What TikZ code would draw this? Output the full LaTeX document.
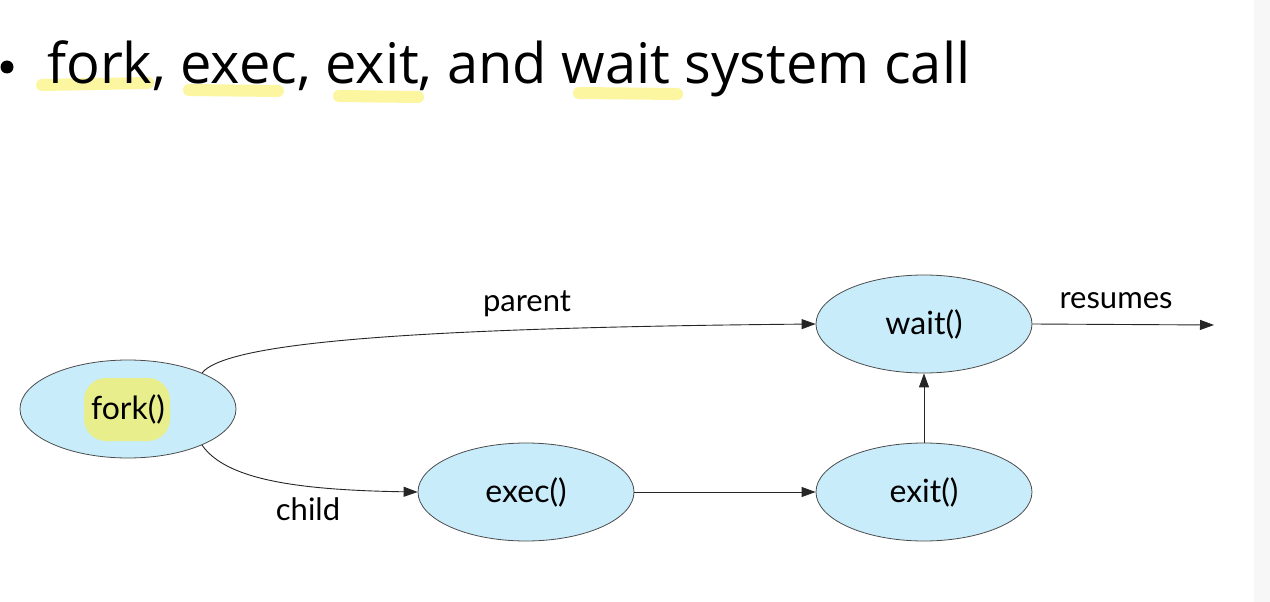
\documentclass[tikz,border=0pt]{standalone}
\usepackage{fontspec}
\setmainfont{Open Sans}
\newfontfamily\labelfont{Lato}
\usetikzlibrary{shapes.geometric,arrows.meta}
\definecolor{procblue}{RGB}{200,236,250}
\definecolor{hlyellow}{RGB}{252,246,160}
\definecolor{hlblob}{RGB}{232,238,140}
\definecolor{edgegray}{RGB}{247,247,247}
\begin{document}
\begin{tikzpicture}[x=1pt,y=-1pt,
  proc/.style={ellipse, draw=black!70, line width=0.8pt, fill=procblue,
    minimum width=216pt, minimum height=98pt, inner sep=0pt,
    font=\labelfont\fontsize{32}{34}\selectfont},
  lbl/.style={font=\labelfont\fontsize{31}{33}\selectfont, inner sep=0pt},
  conn/.style={draw=black!85, line width=0.9pt, -{Triangle[length=14pt,width=10pt]}},
  hl/.style={draw=hlyellow, line width=12pt, line cap=round},
]
\useasboundingbox (0,0) rectangle (1270,602);
\fill[white] (0,0) rectangle (1270,602);
\fill[edgegray] (1254,0) rectangle (1270,602);

% highlights in title
\draw[hl] (42,85) -- (148,83);
\draw[hl] (189,90) -- (278,91);
\draw[hl] (339,96) -- (418,97);
\draw[hl] (579,93) -- (677,94);

% title
\node[circle, fill=black, minimum size=13pt, inner sep=0pt] (bullet) at (7,67) {};
\node[anchor=base west, inner sep=0pt, font=\fontsize{56}{60}\selectfont] (title) at (47,84)
  {fork, exec, exit, and wait system call};

% process ellipses
\node[proc] (fork) at (128,409) {};
\fill[hlblob, rounded corners=22pt] (84,378) rectangle (170,441);
\node[lbl, font=\labelfont\fontsize{32}{34}\selectfont] (forktxt) at (128,409) {fork()};
\node[proc] (exec) at (526,492) {exec()};
\node[proc] (exit) at (924,492) {exit()};
\node[proc] (wait) at (924,324) {wait()};
\coordinate (resend) at (1214,325);

% connectors
\draw[conn] (fork.26) .. controls (225,345) and (380,328) .. (wait.west);
\draw[conn] (fork.-26) .. controls (225,478) and (290,490) .. (exec.west);
\draw[conn] (exec.east) -- (exit.west);
\draw[conn] (exit.north) -- (wait.south);
\draw[conn] (wait.east) -- (resend);

% connector labels
\node[lbl] (parentlbl) at (527,304) {parent};
\node[lbl] (childlbl) at (308,509) {child};
\node[lbl] (resumeslbl) at (1116,301) {resumes};
\end{tikzpicture}
\end{document}
